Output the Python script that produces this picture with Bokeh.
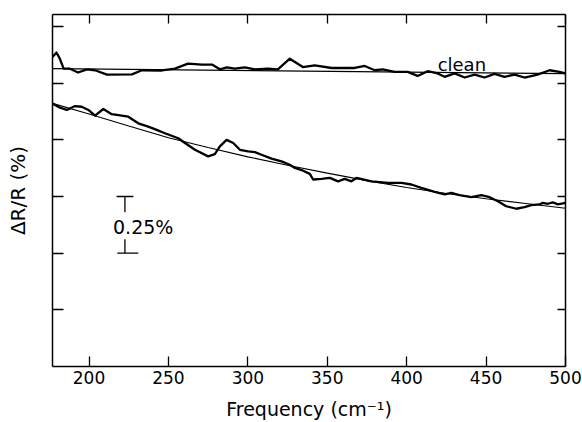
from bokeh.plotting import figure
from bokeh.models import Range1d, LinearAxis, FixedTicker, Label
from bokeh.embed import file_html
from bokeh.resources import INLINE

# ---------------- data ----------------
x_ticks = [200, 250, 300, 350, 400, 450, 500]
y_ticks = [0.25, 0.5, 0.75, 1.0, 1.25, 1.5]

# "clean" spectrum (noisy trace) and its straight reference line
clean_freq = [177, 179.5, 181.5, 184, 188, 193.1, 198.7, 203.8, 211.3, 227, 233.3, 245.9,
              254.1, 262.3, 271.1, 277.4, 282.4, 286.8, 291.8, 298.1, 304.4, 312.6, 318.9,
              326.4, 334.6, 342.1, 352.8, 367.3, 373.6, 379.9, 384.9, 392.5, 400.6, 406.9,
              413.2, 419.5, 423.9, 430.2, 436.5, 442.8, 449.1, 455.3, 461.6, 467.9, 474.2,
              482.4, 490, 496.2, 500]
clean_dr = [1.365, 1.385, 1.36, 1.314, 1.314, 1.297, 1.311, 1.307, 1.288, 1.289, 1.307, 1.306,
            1.314, 1.336, 1.332, 1.332, 1.311, 1.320, 1.314, 1.320, 1.311, 1.314, 1.311,
            1.358, 1.321, 1.329, 1.317, 1.317, 1.326, 1.307, 1.311, 1.300, 1.300, 1.282,
            1.303, 1.293, 1.278, 1.293, 1.275, 1.288, 1.275, 1.291, 1.278, 1.288, 1.275,
            1.288, 1.307, 1.300, 1.293]
clean_fit_freq = [177, 500]
clean_fit_dr = [1.314, 1.292]

# covered-surface spectrum (noisy trace) and its fitted curve
low_freq = [176.7, 181.8, 186, 191.2, 195.4, 199.6, 203.8, 209, 214.3, 220.6, 224.7, 231,
            237.3, 242.6, 247.8, 256.2, 260.4, 266.7, 275, 279.2, 282.4, 286.6, 290.8, 295,
            300.2, 304.4, 308.6, 314.9, 321.2, 326.4, 329.6, 334.8, 339, 341.1, 346.4, 351.6,
            356.8, 361, 365.2, 368.4, 377.8, 388.2, 396.7, 403, 409.2, 417.6, 423.9, 428.1,
            433.3, 440.7, 447, 452.2, 457.4, 462.7, 469, 474.2, 478.4, 483.6, 485.7, 488.9,
            492, 495.2, 500]
low_dr = [1.161, 1.142, 1.132, 1.149, 1.146, 1.132, 1.107, 1.136, 1.113, 1.107, 1.102, 1.073,
          1.058, 1.044, 1.029, 1.007, 0.986, 0.956, 0.927, 0.937, 0.971, 1.000, 0.986, 0.956,
          0.949, 0.946, 0.934, 0.917, 0.905, 0.890, 0.876, 0.864, 0.850, 0.825, 0.828, 0.832,
          0.817, 0.828, 0.817, 0.832, 0.817, 0.810, 0.810, 0.803, 0.788, 0.770, 0.759, 0.766,
          0.756, 0.747, 0.756, 0.747, 0.729, 0.707, 0.696, 0.703, 0.712, 0.715, 0.722, 0.718,
          0.724, 0.715, 0.722]
fit_freq = [177, 200, 225, 250, 275, 300, 325, 350, 375, 400, 425, 450, 475, 500]
fit_dr = [1.161, 1.114, 1.061, 1.009, 0.966, 0.925, 0.888, 0.853, 0.820, 0.790, 0.763, 0.740,
          0.719, 0.698]

# 0.25 % scale bar
bar_x0 = [222.6, 222.6, 217.4, 217.8]
bar_y0 = [0.75, 0.561, 0.75, 0.5]
bar_x1 = [222.6, 222.6, 227.9, 231.0]
bar_y1 = [0.680, 0.5, 0.75, 0.5]
bar_text = "0.25%"
bar_text_x = 215.1
bar_text_y = 0.617

clean_text = "clean"
clean_text_x = 419.5
clean_text_y = 1.333

FONT = "DejaVu Sans"

p = figure(width=582, height=422, output_backend="svg", toolbar_location=None,
           x_range=Range1d(177, 500), y_range=Range1d(0, 1.553),
           x_axis_location=None, y_axis_location=None,
           min_border_left=52, min_border_right=17, min_border_top=14, min_border_bottom=54)
p.outline_line_color = None
p.background_fill_color = "white"
p.border_fill_color = "white"
for g in p.grid:
    g.visible = False

common = dict(axis_line_color="black", axis_line_width=1.5, major_tick_line_color="black",
              major_tick_line_width=1.3, minor_tick_line_color=None, major_tick_out=0)
blank_x = {t: "" for t in x_ticks}
blank_y = {t: "" for t in y_ticks}

bottom = LinearAxis(ticker=FixedTicker(ticks=x_ticks), axis_label="Frequency (cm\u207b\u00b9)",
                    major_tick_in=10, major_label_text_font=FONT, major_label_text_font_size="17px",
                    major_label_text_color="black", major_label_standoff=4,
                    axis_label_text_font=FONT, axis_label_text_font_size="19px",
                    axis_label_text_font_style="normal", axis_label_text_color="black",
                    axis_label_standoff=11, **common)
top = LinearAxis(ticker=FixedTicker(ticks=x_ticks), major_tick_in=9,
                 major_label_overrides=blank_x, major_label_text_font_size="1px",
                 major_label_standoff=0, **common)
left = LinearAxis(ticker=FixedTicker(ticks=y_ticks), axis_label="\u0394R/R (%)",
                  major_tick_in=11, major_label_overrides=blank_y,
                  major_label_text_font_size="1px", major_label_standoff=0,
                  axis_label_text_font=FONT, axis_label_text_font_size="20px",
                  axis_label_text_font_style="normal", axis_label_text_color="black",
                  axis_label_standoff=23, **common)
right = LinearAxis(ticker=FixedTicker(ticks=y_ticks), major_tick_in=8,
                   major_label_overrides=blank_y, major_label_text_font_size="1px",
                   major_label_standoff=0, **common)
p.add_layout(bottom, "below")
p.add_layout(top, "above")
p.add_layout(left, "left")
p.add_layout(right, "right")

p.line(clean_fit_freq, clean_fit_dr, line_color="black", line_width=1.1)
p.line(fit_freq, fit_dr, line_color="black", line_width=1.1)
p.line(clean_freq, clean_dr, line_color="black", line_width=2.3, line_join="round")
p.line(low_freq, low_dr, line_color="black", line_width=2.3, line_join="round")

p.segment(x0=bar_x0, y0=bar_y0, x1=bar_x1, y1=bar_y1, line_color="black", line_width=1.3)

p.add_layout(Label(x=bar_text_x, y=bar_text_y, text=bar_text, text_font=FONT,
                   text_font_size="19px", text_baseline="middle", text_align="left",
                   text_color="black"))
p.add_layout(Label(x=clean_text_x, y=clean_text_y, text=clean_text, text_font=FONT,
                   text_font_size="18px", text_baseline="alphabetic", text_align="left",
                   text_color="black"))

open("out.html", "w").write(file_html(p, INLINE))
